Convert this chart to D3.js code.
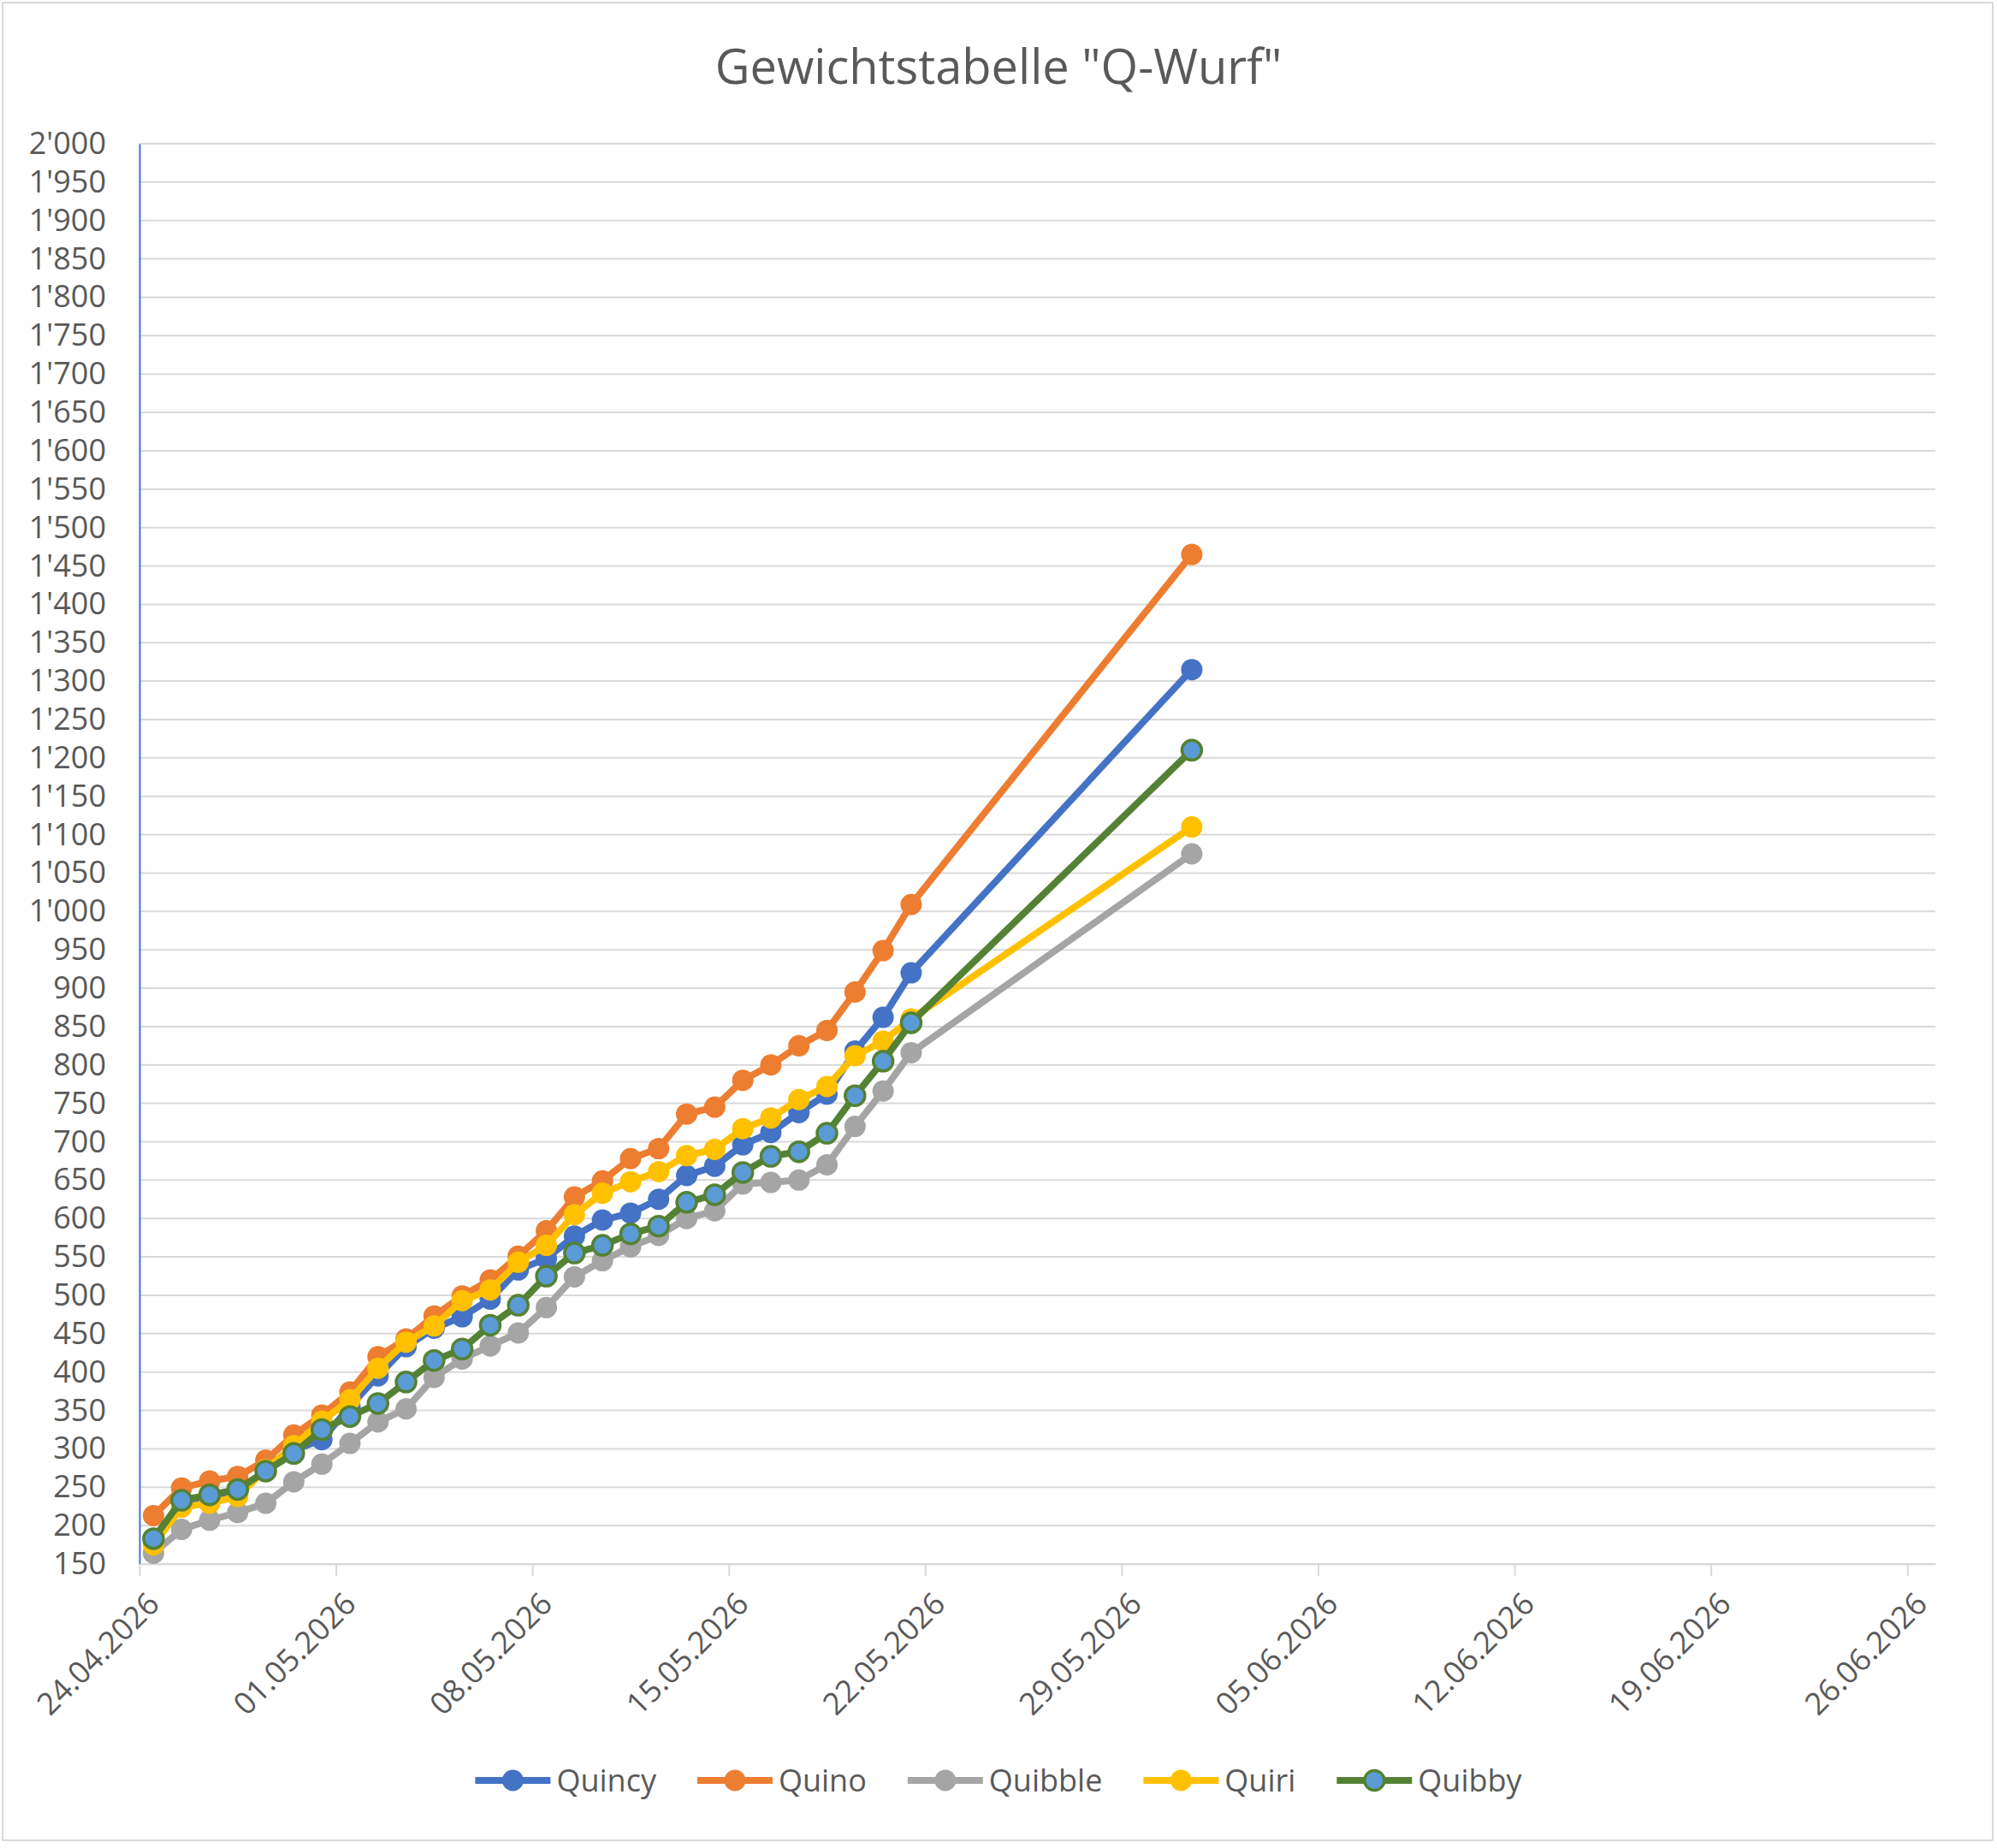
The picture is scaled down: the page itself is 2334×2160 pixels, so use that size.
<!DOCTYPE html>
<html>
<head>
<meta charset="utf-8">
<script src="https://cdn.jsdelivr.net/npm/d3@7"></script>
<style>
  body { margin: 0; background: #fff; }
  text { font-family: "Open Sans", sans-serif; fill: #595959; }
</style>
</head>
<body>
<div id="chart"></div>
<script>
// data (daily weights in g)
const dates = ["24.04.2026", "25.04.2026", "26.04.2026", "27.04.2026", "28.04.2026", "29.04.2026", "30.04.2026",
               "01.05.2026", "02.05.2026", "03.05.2026", "04.05.2026", "05.05.2026", "06.05.2026", "07.05.2026",
               "08.05.2026", "09.05.2026", "10.05.2026", "11.05.2026", "12.05.2026", "13.05.2026", "14.05.2026",
               "15.05.2026", "16.05.2026", "17.05.2026", "18.05.2026", "19.05.2026", "20.05.2026", "21.05.2026",
               "31.05.2026"];

const quincy  = [180, 230, 236, 244, 272, 298, 312, 355, 395, 433, 457, 472, 495, 533, 548, 577, 598, 607, 625, 656,
                 668, 696, 712, 738, 762, 818, 862, 920, 1315];
const quino   = [213, 249, 258, 264, 285, 318, 344, 374, 420, 443, 473, 499, 520, 551, 584, 628, 649, 678, 691, 736,
                 745, 780, 800, 825, 845, 895, 949, 1009, 1465];
const quibble = [164, 195, 207, 217, 229, 257, 280, 307, 335, 352, 393, 417, 434, 451, 484, 524, 545, 563, 578, 600,
                 610, 645, 647, 650, 670, 720, 766, 816, 1075];
const quiri   = [175, 224, 229, 238, 273, 304, 336, 364, 405, 439, 460, 493, 507, 543, 565, 605, 633, 648, 661, 682,
                 690, 717, 731, 755, 772, 812, 831, 860, 1110];
const quibby  = [183, 233, 240, 247, 271, 294, 325, 342, 359, 387, 415, 430, 461, 487, 525, 555, 565, 580, 590, 621,
                 631, 660, 681, 687, 711, 760, 805, 855, 1210];

const seriesNames = ["Quincy", "Quino", "Quibble", "Quiri", "Quibby"];
const seriesValues = [quincy, quino, quibble, quiri, quibby];
const lineColors = ["#4472c4", "#ed7d31", "#a5a5a5", "#ffc000", "#548235"];
const markerFills = ["#4472c4", "#ed7d31", "#a5a5a5", "#ffc000", "#5b9bd5"];

const xTickLabels = ["24.04.2026", "01.05.2026", "08.05.2026", "15.05.2026", "22.05.2026", "29.05.2026",
                     "05.06.2026", "12.06.2026", "19.06.2026", "26.06.2026"];
const xDomain = ["24.04.2026", "27.06.2026"];
const yTicks = [150, 200, 250, 300, 350, 400, 450, 500, 550, 600, 650, 700, 750, 800, 850, 900, 950, 1000,
                1050, 1100, 1150, 1200, 1250, 1300, 1350, 1400, 1450, 1500, 1550, 1600, 1650, 1700, 1750,
                1800, 1850, 1900, 1950, 2000];

const FRAME_WIDTH = 2334;
const FRAME_HEIGHT = 2160;
const MARGINS = {left: 163, right: 72, top: 168, bottom: 332};
const VIS_WIDTH = FRAME_WIDTH - MARGINS.left - MARGINS.right;
const VIS_HEIGHT = FRAME_HEIGHT - MARGINS.top - MARGINS.bottom;
const R = 12.5;

const parse = d3.utcParse("%d.%m.%Y");
const fmtDate = d3.utcFormat("%d.%m.%Y");
const swiss = d3.formatLocale({decimal: ".", thousands: "'", grouping: [3], currency: ["", ""]});
const fmtY = swiss.format(",");

const svg = d3.select("#chart")
  .append("svg")
    .attr("width", FRAME_WIDTH)
    .attr("height", FRAME_HEIGHT);

// chart area border
svg.append("rect")
  .attr("x", 3).attr("y", 3)
  .attr("width", FRAME_WIDTH - 8).attr("height", FRAME_HEIGHT - 12)
  .attr("fill", "#fff")
  .attr("stroke", "#d9d9d9")
  .attr("stroke-width", 2);

// title
svg.append("text")
  .attr("x", FRAME_WIDTH / 2)
  .attr("y", 98)
  .attr("text-anchor", "middle")
  .attr("font-size", 56)
  .text("Gewichtstabelle \"Q-Wurf\"");

const xScale = d3.scaleUtc()
  .domain(xDomain.map(parse))
  .range([0, VIS_WIDTH]);
const yScale = d3.scaleLinear()
  .domain([150, 2000])
  .range([VIS_HEIGHT, 0]);

const g = svg.append("g")
  .attr("transform", "translate(" + MARGINS.left + "," + MARGINS.top + ")");

// horizontal gridlines
g.append("g")
  .selectAll("line")
  .data(yTicks)
  .enter()
  .append("line")
    .attr("x1", 0)
    .attr("x2", VIS_WIDTH)
    .attr("y1", d => yScale(d))
    .attr("y2", d => yScale(d))
    .attr("stroke", "#d9d9d9")
    .attr("stroke-width", 2);

// y axis
const yAxis = g.append("g")
  .call(d3.axisLeft(yScale).tickValues(yTicks).tickFormat(fmtY).tickSize(0).tickPadding(39));
yAxis.select(".domain").attr("stroke", "#4472c4").attr("stroke-width", 2);
yAxis.selectAll("text")
  .attr("font-size", 36)
  .attr("font-family", "Open Sans, sans-serif")
  .attr("fill", "#595959");

// x axis
const xAxis = g.append("g")
  .attr("transform", "translate(0," + VIS_HEIGHT + ")")
  .call(d3.axisBottom(xScale).tickValues(xTickLabels.map(parse)).tickFormat(fmtDate).tickSize(14).tickSizeOuter(0));
xAxis.select(".domain").attr("stroke", "#d9d9d9").attr("stroke-width", 2);
xAxis.selectAll(".tick line").attr("stroke", "#d9d9d9").attr("stroke-width", 2);
xAxis.selectAll("text")
  .attr("font-size", 36)
  .attr("font-family", "Open Sans, sans-serif")
  .attr("fill", "#595959")
  .attr("text-anchor", "end")
  .attr("transform", "translate(16,40) rotate(-45)")
  .attr("y", 0)
  .attr("dy", "0.35em");

// points sit in the middle of their day on an Excel date axis
const xPos = s => xScale(d3.utcHour.offset(parse(s), 12));

const line = d3.line()
  .x(d => xPos(d.date))
  .y(d => yScale(d.value));

seriesNames.forEach((name, i) => {
  const pts = dates.map((d, j) => ({date: d, value: seriesValues[i][j]}));
  const sg = g.append("g").attr("class", "series");
  sg.append("path")
    .datum(pts)
    .attr("fill", "none")
    .attr("stroke", lineColors[i])
    .attr("stroke-width", 8)
    .attr("stroke-linejoin", "round")
    .attr("stroke-linecap", "round")
    .attr("d", line);
  sg.selectAll("circle")
    .data(pts)
    .enter()
    .append("circle")
      .attr("cx", d => xPos(d.date))
      .attr("cy", d => yScale(d.value))
      .attr("r", name === "Quibby" ? R - 1 : R)
      .attr("fill", markerFills[i])
      .attr("stroke", lineColors[i])
      .attr("stroke-width", name === "Quibby" ? 3.5 : 0);
});

// legend, centred below the axis labels
const legend = svg.append("g");
let lx = 0;
seriesNames.forEach((name, i) => {
  const item = legend.append("g").attr("transform", "translate(" + lx + ",0)");
  item.append("line")
    .attr("x1", 0).attr("x2", 88)
    .attr("stroke", lineColors[i])
    .attr("stroke-width", 8);
  item.append("circle")
    .attr("cx", 44)
    .attr("r", name === "Quibby" ? R - 1 : R)
    .attr("fill", markerFills[i])
    .attr("stroke", lineColors[i])
    .attr("stroke-width", name === "Quibby" ? 3.5 : 0);
  const t = item.append("text")
    .attr("x", 95)
    .attr("dy", "0.35em")
    .attr("font-size", 36)
    .text(name);
  lx += 95 + t.node().getComputedTextLength() + 48;
});
lx -= 48;
legend.attr("transform", "translate(" + ((FRAME_WIDTH - lx) / 2) + ",2081)");
</script>
</body>
</html>
